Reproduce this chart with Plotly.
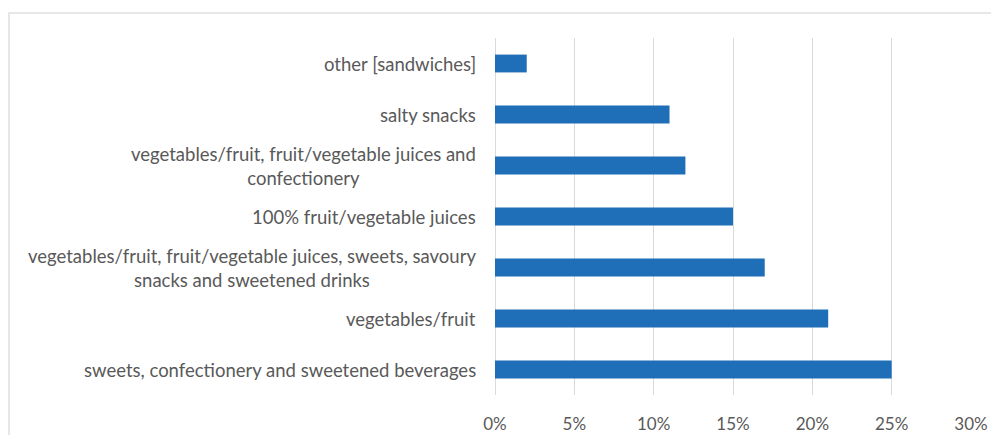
import plotly.graph_objects as go

categories = [
    "other [sandwiches]",
    "salty snacks",
    "vegetables/fruit, fruit/vegetable juices and<br>confectionery",
    "100% fruit/vegetable juices",
    "vegetables/fruit, fruit/vegetable juices, sweets, savoury<br>snacks and sweetened drinks",
    "vegetables/fruit",
    "sweets, confectionery and sweetened beverages",
]
values = [0.02, 0.11, 0.12, 0.15, 0.17, 0.21, 0.25]
tick_vals = [0, 0.05, 0.10, 0.15, 0.20, 0.25, 0.30]
tick_text = ["0%", "5%", "10%", "15%", "20%", "25%", "30%"]

FONT = "Lato"
TXT = "#595959"

# page body has an 8px margin; figure is sized/offset to compensate
W, H = 991, 427
L, R, T, B = 487, 28, 30, 40
PW = W - L - R
PH = H - T - B

fig = go.Figure(go.Bar(
    x=values, y=list(range(len(categories))), orientation="h",
    marker=dict(color="#1f6fb8", line=dict(width=0)),
    width=0.35, hoverinfo="skip",
))

annotations = [
    dict(x=0, y=i, xref="paper", yref="y", text=c, showarrow=False,
         xanchor="right", yanchor="middle", align="center", xshift=-17,
         font=dict(family=FONT, size=18.5, color=TXT))
    for i, c in enumerate(categories)
]

fig.update_layout(
    width=W, height=H,
    margin=dict(l=L, r=R, t=T, b=B, autoexpand=False),
    paper_bgcolor="white", plot_bgcolor="white",
    showlegend=False,
    annotations=annotations,
    xaxis=dict(range=[0, 0.30], tickvals=tick_vals, ticktext=tick_text,
               automargin=False,
               showgrid=True, gridcolor="#d9d9d9", gridwidth=1,
               zeroline=True, zerolinecolor="#d9d9d9", zerolinewidth=1,
               showline=False, ticks="", ticklabelstandoff=17,
               tickfont=dict(family=FONT, size=17, color=TXT)),
    yaxis=dict(range=[6.5, -0.5], showticklabels=False, showgrid=False,
               automargin=False,
               zeroline=False, showline=False, ticks=""),
    shapes=[dict(type="rect", xref="paper", yref="paper",
                 x0=(1 - L) / PW, x1=1.2,
                 y0=-0.3, y1=1 + (T - 5) / PH,
                 line=dict(color="#e0e0e0", width=1.5), layer="below")],
)

fig.write_html("out.html")
